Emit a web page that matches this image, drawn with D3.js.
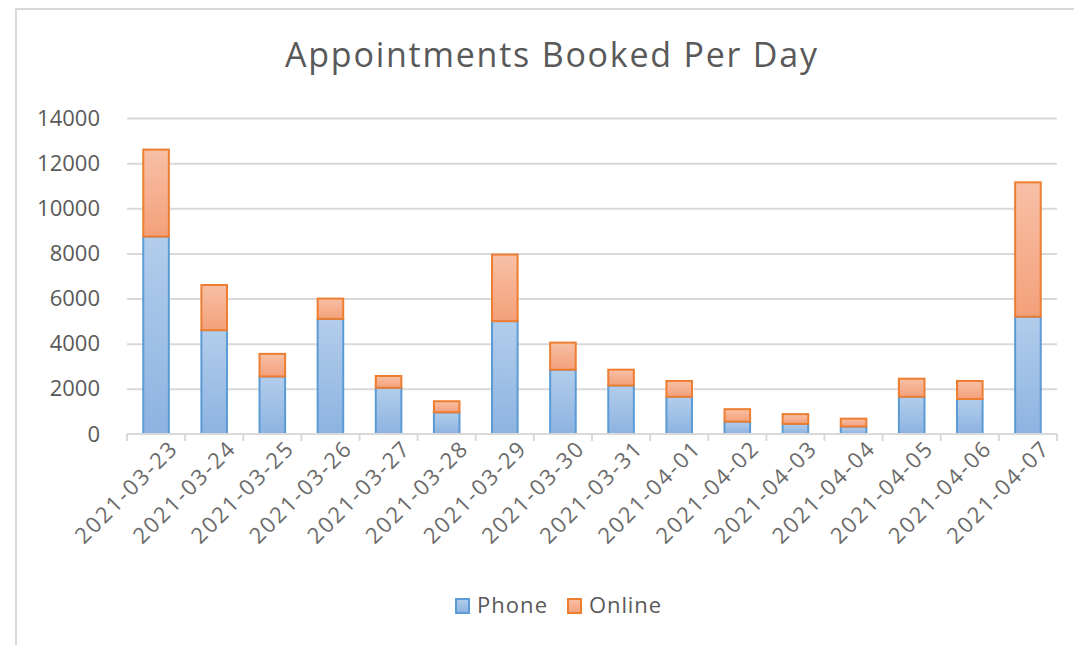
<!DOCTYPE html>
<html>
<head>
<meta charset="utf-8">
<script src="https://cdn.jsdelivr.net/npm/d3@7"></script>
<style>
  body { margin: 0; background: #fff; }
  text { font-family: "Open Sans", sans-serif; fill: #595959; }
</style>
</head>
<body>
<div id="chart"></div>
<script>
// data
var days = ['2021-03-23', '2021-03-24', '2021-03-25', '2021-03-26', '2021-03-27', '2021-03-28',
    '2021-03-29', '2021-03-30', '2021-03-31', '2021-04-01', '2021-04-02', '2021-04-03',
    '2021-04-04', '2021-04-05', '2021-04-06', '2021-04-07']
var phone = [8750, 4600, 2550, 5100, 2050, 960, 5000, 2850, 2150, 1650, 550, 450, 330, 1650, 1550, 5200]
var online = [3850, 2000, 1000, 900, 520, 490, 2950, 1200, 700, 700, 550, 430, 350, 800, 800, 5950]
var yTicks = [0, 2000, 4000, 6000, 8000, 10000, 12000, 14000]
var seriesNames = ['Phone', 'Online']

// set dimensions
var W = 1074, H = 645
var margin = { top: 118, right: 17, bottom: 211, left: 127 }
var width = W - margin.left - margin.right
var height = H - margin.top - margin.bottom

var svg = d3.select('#chart').append('svg')
    .attr('width', W)
    .attr('height', H)

// gradients for the bars
var defs = svg.append('defs')
var grads = [['gPhone', '#b3cdeb', '#8db3e1'], ['gOnline', '#f7c0a6', '#f4a07a']]
grads.forEach(function (g) {
    var lg = defs.append('linearGradient').attr('id', g[0])
        .attr('x1', 0).attr('y1', 0).attr('x2', 0).attr('y2', 1)
    lg.append('stop').attr('offset', '0%').attr('stop-color', g[1])
    lg.append('stop').attr('offset', '100%').attr('stop-color', g[2])
})
var fills = ['url(#gPhone)', 'url(#gOnline)']
var strokes = ['#5b9bd5', '#ed7d31']

// chart frame
svg.append('path')
    .attr('d', 'M16,' + H + 'V9H' + W)
    .style('fill', 'none')
    .style('stroke', '#d9d9d9')
    .style('stroke-width', 2)

// title
svg.append('text')
    .attr('x', 551)
    .attr('y', 67)
    .attr('text-anchor', 'middle')
    .attr('textLength', 532)
    .attr('lengthAdjust', 'spacing')
    .style('font-size', '34px')
    .text('Appointments Booked Per Day')

var g = svg.append('g')
    .attr('transform', 'translate(' + margin.left + ',' + margin.top + ')')

var x = d3.scaleBand()
    .domain(days)
    .range([0, width])
    .paddingInner(0.56)
    .paddingOuter(0.28)
var y = d3.scaleLinear()
    .domain([0, 14000])
    .range([height, 0])

// gridlines
var yAxis = d3.axisLeft(y)
    .tickValues(yTicks)
    .tickSize(-width)
    .tickPadding(27)
    .tickFormat(function (d) { return d })
var gy = g.append('g').call(yAxis)
gy.select('.domain').remove()
gy.selectAll('line').style('stroke', '#d9d9d9').style('stroke-width', 2)
gy.selectAll('.tick').filter(function (d) { return d === 0 }).select('line').remove()
gy.selectAll('text')
    .style('font-size', '22px')
    .style('font-family', '"Open Sans", sans-serif')
    .attr('fill', '#595959')

// stacked bars
var stackData = days.map(function (d, i) { return { day: d, Phone: phone[i], Online: online[i] } })
var series = d3.stack().keys(seriesNames)(stackData)

g.selectAll('.series')
    .data(series)
    .enter().append('g')
    .attr('class', 'series')
    .each(function (s, si) {
        d3.select(this).selectAll('rect')
            .data(s)
            .enter().append('rect')
            .attr('x', function (d) { return x(d.data.day) })
            .attr('width', x.bandwidth())
            .attr('y', function (d) { return y(d[1]) })
            .attr('height', function (d) { return y(d[0]) - y(d[1]) })
            .style('fill', fills[si])
            .style('stroke', strokes[si])
            .style('stroke-width', 2)
    })

// category axis
var boundaries = d3.range(days.length + 1).map(function (i) { return i * width / days.length })
var gx = g.append('g').attr('transform', 'translate(0,' + height + ')')
gx.append('line')
    .attr('x1', 0).attr('x2', width)
    .style('stroke', '#d9d9d9').style('stroke-width', 2)
gx.selectAll('.tk')
    .data(boundaries)
    .enter().append('line')
    .attr('x1', function (d) { return d }).attr('x2', function (d) { return d })
    .attr('y1', 0).attr('y2', 7)
    .style('stroke', '#d9d9d9').style('stroke-width', 2)
gx.selectAll('.lbl')
    .data(days)
    .enter().append('text')
    .attr('text-anchor', 'end')
    .attr('transform', function (d) {
        return 'translate(' + (x(d) + x.bandwidth() / 2 + 11) + ',6) rotate(-45)'
    })
    .attr('dy', '0.71em')
    .attr('textLength', 133)
    .attr('lengthAdjust', 'spacing')
    .style('font-size', '22px')
    .style('fill', '#6a6a6a')
    .text(function (d) { return d })

// legend
var legend = svg.append('g').attr('transform', 'translate(455,598)')
var items = [{ name: 'Phone', x: 0 }, { name: 'Online', x: 112 }]
items.forEach(function (it, i) {
    legend.append('rect')
        .attr('x', it.x + 1).attr('y', 1)
        .attr('width', 13).attr('height', 14)
        .style('fill', fills[i])
        .style('stroke', strokes[i])
        .style('stroke-width', 2)
    legend.append('text')
        .attr('x', it.x + 22)
        .attr('y', 15)
        .attr('textLength', i === 0 ? 70 : 72)
        .attr('lengthAdjust', 'spacing')
        .style('font-size', '22px')
        .text(it.name)
})
</script>
</body>
</html>
